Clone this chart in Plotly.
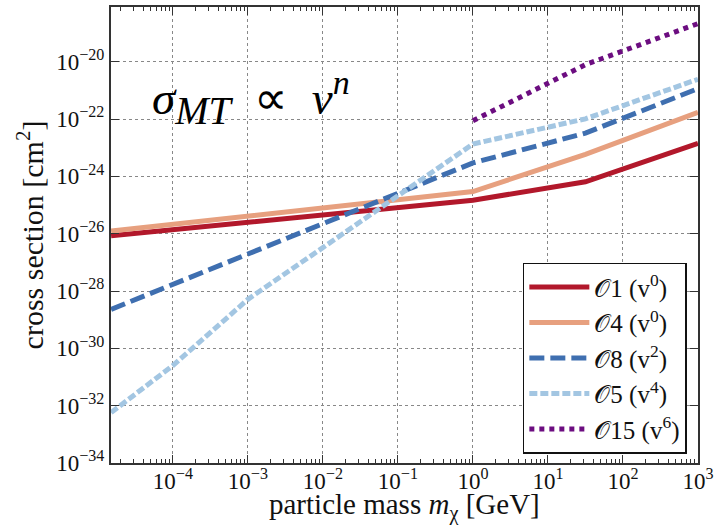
import plotly.graph_objects as go

# ---- data ----
mass_main = [1.5e-5, 1.0, 31.6, 1000.0]
o1_vals = [8.51e-27, 1.48e-25, 6.46e-25, 1.41e-23]
o4_vals = [1.23e-26, 2.95e-25, 5.89e-24, 1.70e-22]
o8_vals = [2.29e-29, 2.95e-24, 3.24e-23, 1.15e-21]
mass_o5 = [1.5e-5, 1e-4, 1e-3, 1e-2, 1e-1, 1.0, 31.6, 1000.0]
o5_vals = [5.75e-33, 2.51e-31, 5.13e-29, 3.39e-27, 2.0e-25, 1.35e-23, 1.02e-22, 2.45e-21]
mass_o15 = [1.0, 31.6, 1000.0]
o15_vals = [8.71e-23, 7.94e-21, 2.14e-19]

names = ["𝒪1 (v<sup>0</sup>)", "𝒪4 (v<sup>0</sup>)", "𝒪8 (v<sup>2</sup>)",
         "𝒪5 (v<sup>4</sup>)", "𝒪15 (v<sup>6</sup>)"]

x_exps = [-4, -3, -2, -1, 0, 1, 2, 3]
y_exps = [-34, -32, -30, -28, -26, -24, -22, -20]

series = [
    (mass_main, o1_vals, names[0], "#b2182b", "solid", 5),
    (mass_main, o4_vals, names[1], "#e7a07f", "solid", 5),
    (mass_main, o8_vals, names[2], "#3f6fb0", "15px,6px", 5),
    (mass_o5, o5_vals, names[3], "#a3c6e2", "8px,3px", 5),
    (mass_o15, o15_vals, names[4], "#6c0d80", "5px,5px", 5),
]

FONT = "Liberation Serif"


def pow_label(e):
    return "10<sup>" + ("−" if e < 0 else "") + str(abs(e)) + "</sup>"


fig = go.Figure()
for xs, ys, nm, col, dash, w in series:
    fig.add_trace(go.Scatter(x=xs, y=ys, mode="lines", name=nm,
                             line=dict(color=col, width=w, dash=dash)))

axis_common = dict(
    type="log", showline=True, linecolor="#333333", linewidth=2, mirror="ticks",
    ticks="inside", ticklen=8, tickwidth=1.2, tickcolor="#333333",
    showgrid=True, gridcolor="#888888", griddash="dot", gridwidth=1,
    zeroline=False, ticklabeloverflow="allow",
    tickfont=dict(family=FONT, size=23, color="#111111"),
)

minor_x = [k * 10.0 ** e for e in range(-5, 3) for k in range(2, 10)]

fig.update_xaxes(**axis_common, range=[-4.825, 3.0005], tickmode="array",
                 tickvals=[10.0 ** e for e in x_exps], ticktext=[pow_label(e) for e in x_exps],
                 ticklabelstandoff=-4,
                 minor=dict(ticks="inside", ticklen=4, tickcolor="#333333", showgrid=False,
                            tickmode="array", tickvals=minor_x))
fig.update_yaxes(**axis_common, range=[-34, -18.09], tickmode="array",
                 tickvals=[10.0 ** e for e in y_exps], ticktext=[pow_label(e) for e in y_exps],
                 title=dict(text="cross section [cm<sup>2</sup>]",
                            font=dict(family=FONT, size=30, color="#111111"), standoff=4))

# x-axis title placed as a paper annotation just under the tick labels
fig.add_annotation(xref="paper", yref="paper", x=0.5, y=-0.14, xanchor="center", yanchor="bottom",
                   showarrow=False,
                   text="particle mass <i>m</i><sub>χ</sub> [GeV]",
                   font=dict(family=FONT, size=29, color="#111111"))

fig.add_annotation(xref="paper", yref="paper", x=0.066, y=0.80, xanchor="left", yanchor="middle",
                   showarrow=False,
                   text=("<i>σ</i><sub><span style='font-size:40px'><i>MT</i></span></sub>"
                         "\u2002∝\u2002<i>v</i><sup><span style='font-size:34px'><i>n</i></span></sup>"),
                   font=dict(family=FONT, size=47, color="#000000"))

fig.update_layout(
    width=718, height=527,
    margin=dict(l=111, r=16, t=5, b=64),
    paper_bgcolor="white", plot_bgcolor="white",
    font=dict(family=FONT, color="#111111"),
    legend=dict(x=0.981, y=0.439, xanchor="right", yanchor="top",
                bgcolor="white", bordercolor="#111111", borderwidth=1.5,
                font=dict(family=FONT, size=25, color="#111111"),
                itemwidth=60, tracegroupgap=0),
)

fig.write_html("out.html")
